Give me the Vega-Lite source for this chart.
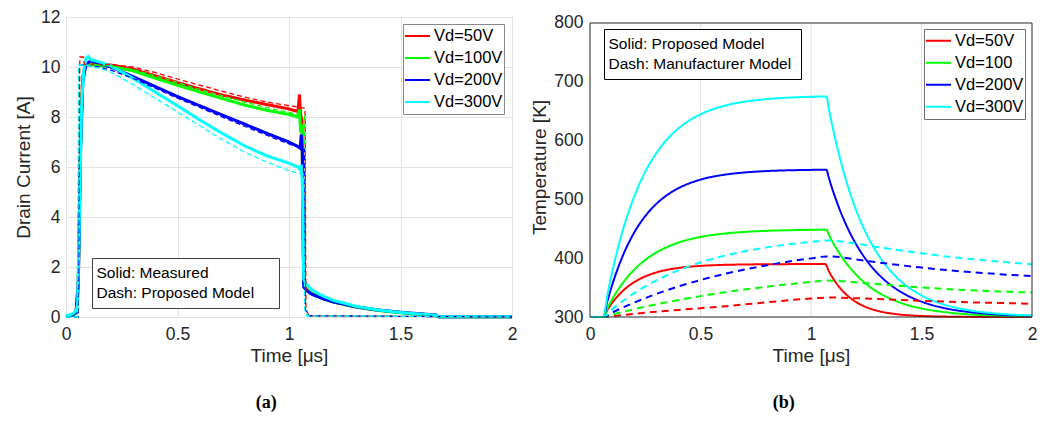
{
"$schema": "https://vega.github.io/schema/vega-lite/v6.json",
"background": "white",
"padding": {"left": 14, "top": 7, "right": 5, "bottom": 5},
"autosize": {"type": "pad"},
"spacing": 78,
"bounds": "flush",
"config": {
  "font": "Liberation Sans",
  "view": {"stroke": null},
  "axis": {"labelFont": "Liberation Sans", "titleFont": "Liberation Sans", "labelFontSize": 17.5, "titleFontSize": 19, "titleFontWeight": "normal", "labelColor": "#262626", "titleColor": "#262626", "gridColor": "#e3e3e3", "gridWidth": 1, "domain": false, "ticks": false},
  "legend": {"labelFont": "Liberation Sans", "labelColor": "#000000", "fillColor": "white", "labelLimit": 400}
},
"resolve": {"scale": {"color": "independent", "strokeDash": "independent", "x": "independent", "y": "independent"}, "legend": {"color": "independent", "strokeDash": "independent"}},
"datasets": {
"a": [
{"t":0,"v":0.04,"s":"Vd=50V","k":"Solid: Measured"},{"t":0.03,"v":0.08,"s":"Vd=50V","k":"Solid: Measured"},{"t":0.045,"v":0.15,"s":"Vd=50V","k":"Solid: Measured"},{"t":0.055,"v":1.5,"s":"Vd=50V","k":"Solid: Measured"},{"t":0.065,"v":7.0,"s":"Vd=50V","k":"Solid: Measured"},{"t":0.075,"v":9.6,"s":"Vd=50V","k":"Solid: Measured"},{"t":0.085,"v":10.05,"s":"Vd=50V","k":"Solid: Measured"},{"t":0.1,"v":10.12,"s":"Vd=50V","k":"Solid: Measured"},{"t":0.12,"v":10.1,"s":"Vd=50V","k":"Solid: Measured"},{"t":0.2,"v":10.08,"s":"Vd=50V","k":"Solid: Measured"},{"t":0.3,"v":9.92,"s":"Vd=50V","k":"Solid: Measured"},{"t":0.4,"v":9.65,"s":"Vd=50V","k":"Solid: Measured"},{"t":0.5,"v":9.38,"s":"Vd=50V","k":"Solid: Measured"},{"t":0.6,"v":9.12,"s":"Vd=50V","k":"Solid: Measured"},{"t":0.7,"v":8.88,"s":"Vd=50V","k":"Solid: Measured"},{"t":0.8,"v":8.68,"s":"Vd=50V","k":"Solid: Measured"},{"t":0.9,"v":8.5,"s":"Vd=50V","k":"Solid: Measured"},{"t":1.0,"v":8.32,"s":"Vd=50V","k":"Solid: Measured"},{"t":1.04,"v":8.22,"s":"Vd=50V","k":"Solid: Measured"},{"t":1.047,"v":8.9,"s":"Vd=50V","k":"Solid: Measured"},{"t":1.052,"v":8.1,"s":"Vd=50V","k":"Solid: Measured"},{"t":1.058,"v":7.9,"s":"Vd=50V","k":"Solid: Measured"},{"t":1.066,"v":1.3,"s":"Vd=50V","k":"Solid: Measured"},{"t":1.08,"v":1.1,"s":"Vd=50V","k":"Solid: Measured"},{"t":1.1,"v":0.95,"s":"Vd=50V","k":"Solid: Measured"},{"t":1.15,"v":0.76,"s":"Vd=50V","k":"Solid: Measured"},{"t":1.2,"v":0.6,"s":"Vd=50V","k":"Solid: Measured"},{"t":1.3,"v":0.4,"s":"Vd=50V","k":"Solid: Measured"},{"t":1.4,"v":0.27,"s":"Vd=50V","k":"Solid: Measured"},{"t":1.5,"v":0.18,"s":"Vd=50V","k":"Solid: Measured"},{"t":1.6,"v":0.11,"s":"Vd=50V","k":"Solid: Measured"},{"t":1.66,"v":0.07,"s":"Vd=50V","k":"Solid: Measured"},{"t":1.67,"v":0.01,"s":"Vd=50V","k":"Solid: Measured"},{"t":2.0,"v":0.01,"s":"Vd=50V","k":"Solid: Measured"},
{"t":0,"v":0.03,"s":"Vd=100V","k":"Solid: Measured"},{"t":0.03,"v":0.07,"s":"Vd=100V","k":"Solid: Measured"},{"t":0.045,"v":0.15,"s":"Vd=100V","k":"Solid: Measured"},{"t":0.055,"v":1.3,"s":"Vd=100V","k":"Solid: Measured"},{"t":0.065,"v":6.8,"s":"Vd=100V","k":"Solid: Measured"},{"t":0.075,"v":9.5,"s":"Vd=100V","k":"Solid: Measured"},{"t":0.085,"v":10.0,"s":"Vd=100V","k":"Solid: Measured"},{"t":0.1,"v":10.1,"s":"Vd=100V","k":"Solid: Measured"},{"t":0.12,"v":10.08,"s":"Vd=100V","k":"Solid: Measured"},{"t":0.2,"v":10.02,"s":"Vd=100V","k":"Solid: Measured"},{"t":0.3,"v":9.85,"s":"Vd=100V","k":"Solid: Measured"},{"t":0.4,"v":9.55,"s":"Vd=100V","k":"Solid: Measured"},{"t":0.5,"v":9.27,"s":"Vd=100V","k":"Solid: Measured"},{"t":0.6,"v":9.0,"s":"Vd=100V","k":"Solid: Measured"},{"t":0.7,"v":8.74,"s":"Vd=100V","k":"Solid: Measured"},{"t":0.8,"v":8.48,"s":"Vd=100V","k":"Solid: Measured"},{"t":0.9,"v":8.27,"s":"Vd=100V","k":"Solid: Measured"},{"t":1.0,"v":8.1,"s":"Vd=100V","k":"Solid: Measured"},{"t":1.04,"v":8.0,"s":"Vd=100V","k":"Solid: Measured"},{"t":1.047,"v":8.3,"s":"Vd=100V","k":"Solid: Measured"},{"t":1.052,"v":7.4,"s":"Vd=100V","k":"Solid: Measured"},{"t":1.058,"v":7.7,"s":"Vd=100V","k":"Solid: Measured"},{"t":1.066,"v":1.3,"s":"Vd=100V","k":"Solid: Measured"},{"t":1.08,"v":1.08,"s":"Vd=100V","k":"Solid: Measured"},{"t":1.1,"v":0.93,"s":"Vd=100V","k":"Solid: Measured"},{"t":1.15,"v":0.74,"s":"Vd=100V","k":"Solid: Measured"},{"t":1.2,"v":0.6,"s":"Vd=100V","k":"Solid: Measured"},{"t":1.3,"v":0.4,"s":"Vd=100V","k":"Solid: Measured"},{"t":1.4,"v":0.26,"s":"Vd=100V","k":"Solid: Measured"},{"t":1.5,"v":0.17,"s":"Vd=100V","k":"Solid: Measured"},{"t":1.6,"v":0.1,"s":"Vd=100V","k":"Solid: Measured"},{"t":1.66,"v":0.06,"s":"Vd=100V","k":"Solid: Measured"},{"t":1.67,"v":0.01,"s":"Vd=100V","k":"Solid: Measured"},{"t":2.0,"v":0.01,"s":"Vd=100V","k":"Solid: Measured"},
{"t":0,"v":0.04,"s":"Vd=200V","k":"Solid: Measured"},{"t":0.03,"v":0.08,"s":"Vd=200V","k":"Solid: Measured"},{"t":0.045,"v":0.18,"s":"Vd=200V","k":"Solid: Measured"},{"t":0.055,"v":1.2,"s":"Vd=200V","k":"Solid: Measured"},{"t":0.065,"v":6.5,"s":"Vd=200V","k":"Solid: Measured"},{"t":0.075,"v":9.4,"s":"Vd=200V","k":"Solid: Measured"},{"t":0.09,"v":10.1,"s":"Vd=200V","k":"Solid: Measured"},{"t":0.11,"v":10.25,"s":"Vd=200V","k":"Solid: Measured"},{"t":0.13,"v":10.2,"s":"Vd=200V","k":"Solid: Measured"},{"t":0.2,"v":10.0,"s":"Vd=200V","k":"Solid: Measured"},{"t":0.3,"v":9.62,"s":"Vd=200V","k":"Solid: Measured"},{"t":0.4,"v":9.22,"s":"Vd=200V","k":"Solid: Measured"},{"t":0.5,"v":8.82,"s":"Vd=200V","k":"Solid: Measured"},{"t":0.6,"v":8.45,"s":"Vd=200V","k":"Solid: Measured"},{"t":0.7,"v":8.08,"s":"Vd=200V","k":"Solid: Measured"},{"t":0.8,"v":7.72,"s":"Vd=200V","k":"Solid: Measured"},{"t":0.9,"v":7.35,"s":"Vd=200V","k":"Solid: Measured"},{"t":1.0,"v":7.0,"s":"Vd=200V","k":"Solid: Measured"},{"t":1.04,"v":6.82,"s":"Vd=200V","k":"Solid: Measured"},{"t":1.05,"v":6.75,"s":"Vd=200V","k":"Solid: Measured"},{"t":1.055,"v":7.3,"s":"Vd=200V","k":"Solid: Measured"},{"t":1.06,"v":6.6,"s":"Vd=200V","k":"Solid: Measured"},{"t":1.066,"v":1.2,"s":"Vd=200V","k":"Solid: Measured"},{"t":1.08,"v":1.05,"s":"Vd=200V","k":"Solid: Measured"},{"t":1.1,"v":0.92,"s":"Vd=200V","k":"Solid: Measured"},{"t":1.15,"v":0.74,"s":"Vd=200V","k":"Solid: Measured"},{"t":1.2,"v":0.6,"s":"Vd=200V","k":"Solid: Measured"},{"t":1.3,"v":0.41,"s":"Vd=200V","k":"Solid: Measured"},{"t":1.4,"v":0.28,"s":"Vd=200V","k":"Solid: Measured"},{"t":1.5,"v":0.19,"s":"Vd=200V","k":"Solid: Measured"},{"t":1.6,"v":0.12,"s":"Vd=200V","k":"Solid: Measured"},{"t":1.66,"v":0.08,"s":"Vd=200V","k":"Solid: Measured"},{"t":1.67,"v":0.01,"s":"Vd=200V","k":"Solid: Measured"},{"t":2.0,"v":0.01,"s":"Vd=200V","k":"Solid: Measured"},
{"t":0,"v":0.05,"s":"Vd=300V","k":"Solid: Measured"},{"t":0.03,"v":0.12,"s":"Vd=300V","k":"Solid: Measured"},{"t":0.045,"v":0.25,"s":"Vd=300V","k":"Solid: Measured"},{"t":0.052,"v":0.5,"s":"Vd=300V","k":"Solid: Measured"},{"t":0.06,"v":4.0,"s":"Vd=300V","k":"Solid: Measured"},{"t":0.07,"v":8.5,"s":"Vd=300V","k":"Solid: Measured"},{"t":0.08,"v":9.9,"s":"Vd=300V","k":"Solid: Measured"},{"t":0.09,"v":10.35,"s":"Vd=300V","k":"Solid: Measured"},{"t":0.1,"v":10.42,"s":"Vd=300V","k":"Solid: Measured"},{"t":0.11,"v":10.3,"s":"Vd=300V","k":"Solid: Measured"},{"t":0.15,"v":10.2,"s":"Vd=300V","k":"Solid: Measured"},{"t":0.2,"v":10.05,"s":"Vd=300V","k":"Solid: Measured"},{"t":0.3,"v":9.55,"s":"Vd=300V","k":"Solid: Measured"},{"t":0.4,"v":9.0,"s":"Vd=300V","k":"Solid: Measured"},{"t":0.5,"v":8.45,"s":"Vd=300V","k":"Solid: Measured"},{"t":0.6,"v":7.88,"s":"Vd=300V","k":"Solid: Measured"},{"t":0.7,"v":7.35,"s":"Vd=300V","k":"Solid: Measured"},{"t":0.8,"v":6.85,"s":"Vd=300V","k":"Solid: Measured"},{"t":0.9,"v":6.45,"s":"Vd=300V","k":"Solid: Measured"},{"t":1.0,"v":6.15,"s":"Vd=300V","k":"Solid: Measured"},{"t":1.04,"v":6.0,"s":"Vd=300V","k":"Solid: Measured"},{"t":1.05,"v":5.9,"s":"Vd=300V","k":"Solid: Measured"},{"t":1.055,"v":6.1,"s":"Vd=300V","k":"Solid: Measured"},{"t":1.06,"v":5.3,"s":"Vd=300V","k":"Solid: Measured"},{"t":1.066,"v":1.5,"s":"Vd=300V","k":"Solid: Measured"},{"t":1.08,"v":1.3,"s":"Vd=300V","k":"Solid: Measured"},{"t":1.1,"v":1.1,"s":"Vd=300V","k":"Solid: Measured"},{"t":1.15,"v":0.85,"s":"Vd=300V","k":"Solid: Measured"},{"t":1.2,"v":0.66,"s":"Vd=300V","k":"Solid: Measured"},{"t":1.3,"v":0.43,"s":"Vd=300V","k":"Solid: Measured"},{"t":1.4,"v":0.28,"s":"Vd=300V","k":"Solid: Measured"},{"t":1.5,"v":0.18,"s":"Vd=300V","k":"Solid: Measured"},{"t":1.6,"v":0.11,"s":"Vd=300V","k":"Solid: Measured"},{"t":1.66,"v":0.07,"s":"Vd=300V","k":"Solid: Measured"},{"t":1.67,"v":0.01,"s":"Vd=300V","k":"Solid: Measured"},{"t":2.0,"v":0.01,"s":"Vd=300V","k":"Solid: Measured"},
{"t":0,"v":0,"s":"Vd=50V","k":"Dash: Proposed Model"},{"t":0.055,"v":0,"s":"Vd=50V","k":"Dash: Proposed Model"},{"t":0.062,"v":10.4,"s":"Vd=50V","k":"Dash: Proposed Model"},{"t":0.078,"v":10.4,"s":"Vd=50V","k":"Dash: Proposed Model"},{"t":0.082,"v":10.1,"s":"Vd=50V","k":"Dash: Proposed Model"},{"t":0.2,"v":10.1,"s":"Vd=50V","k":"Dash: Proposed Model"},{"t":0.3,"v":10.0,"s":"Vd=50V","k":"Dash: Proposed Model"},{"t":0.4,"v":9.78,"s":"Vd=50V","k":"Dash: Proposed Model"},{"t":0.5,"v":9.52,"s":"Vd=50V","k":"Dash: Proposed Model"},{"t":0.6,"v":9.27,"s":"Vd=50V","k":"Dash: Proposed Model"},{"t":0.7,"v":9.03,"s":"Vd=50V","k":"Dash: Proposed Model"},{"t":0.8,"v":8.8,"s":"Vd=50V","k":"Dash: Proposed Model"},{"t":0.9,"v":8.6,"s":"Vd=50V","k":"Dash: Proposed Model"},{"t":1.0,"v":8.45,"s":"Vd=50V","k":"Dash: Proposed Model"},{"t":1.072,"v":8.35,"s":"Vd=50V","k":"Dash: Proposed Model"},{"t":1.076,"v":0.3,"s":"Vd=50V","k":"Dash: Proposed Model"},{"t":1.09,"v":0.05,"s":"Vd=50V","k":"Dash: Proposed Model"},{"t":2.0,"v":0,"s":"Vd=50V","k":"Dash: Proposed Model"},
{"t":0,"v":0,"s":"Vd=100V","k":"Dash: Proposed Model"},{"t":0.055,"v":0,"s":"Vd=100V","k":"Dash: Proposed Model"},{"t":0.06,"v":10.1,"s":"Vd=100V","k":"Dash: Proposed Model"},{"t":0.2,"v":10.05,"s":"Vd=100V","k":"Dash: Proposed Model"},{"t":0.3,"v":9.9,"s":"Vd=100V","k":"Dash: Proposed Model"},{"t":0.4,"v":9.65,"s":"Vd=100V","k":"Dash: Proposed Model"},{"t":0.5,"v":9.38,"s":"Vd=100V","k":"Dash: Proposed Model"},{"t":0.6,"v":9.1,"s":"Vd=100V","k":"Dash: Proposed Model"},{"t":0.7,"v":8.85,"s":"Vd=100V","k":"Dash: Proposed Model"},{"t":0.8,"v":8.6,"s":"Vd=100V","k":"Dash: Proposed Model"},{"t":0.9,"v":8.38,"s":"Vd=100V","k":"Dash: Proposed Model"},{"t":1.0,"v":8.18,"s":"Vd=100V","k":"Dash: Proposed Model"},{"t":1.07,"v":8.05,"s":"Vd=100V","k":"Dash: Proposed Model"},{"t":1.074,"v":0.3,"s":"Vd=100V","k":"Dash: Proposed Model"},{"t":1.09,"v":0.05,"s":"Vd=100V","k":"Dash: Proposed Model"},{"t":2.0,"v":0,"s":"Vd=100V","k":"Dash: Proposed Model"},
{"t":0,"v":0,"s":"Vd=200V","k":"Dash: Proposed Model"},{"t":0.055,"v":0,"s":"Vd=200V","k":"Dash: Proposed Model"},{"t":0.06,"v":10.1,"s":"Vd=200V","k":"Dash: Proposed Model"},{"t":0.15,"v":10.0,"s":"Vd=200V","k":"Dash: Proposed Model"},{"t":0.2,"v":9.88,"s":"Vd=200V","k":"Dash: Proposed Model"},{"t":0.3,"v":9.55,"s":"Vd=200V","k":"Dash: Proposed Model"},{"t":0.4,"v":9.15,"s":"Vd=200V","k":"Dash: Proposed Model"},{"t":0.5,"v":8.75,"s":"Vd=200V","k":"Dash: Proposed Model"},{"t":0.6,"v":8.38,"s":"Vd=200V","k":"Dash: Proposed Model"},{"t":0.7,"v":8.0,"s":"Vd=200V","k":"Dash: Proposed Model"},{"t":0.8,"v":7.63,"s":"Vd=200V","k":"Dash: Proposed Model"},{"t":0.9,"v":7.27,"s":"Vd=200V","k":"Dash: Proposed Model"},{"t":1.0,"v":6.92,"s":"Vd=200V","k":"Dash: Proposed Model"},{"t":1.07,"v":6.7,"s":"Vd=200V","k":"Dash: Proposed Model"},{"t":1.073,"v":0.3,"s":"Vd=200V","k":"Dash: Proposed Model"},{"t":1.09,"v":0.05,"s":"Vd=200V","k":"Dash: Proposed Model"},{"t":2.0,"v":0,"s":"Vd=200V","k":"Dash: Proposed Model"},
{"t":0,"v":0,"s":"Vd=300V","k":"Dash: Proposed Model"},{"t":0.052,"v":0,"s":"Vd=300V","k":"Dash: Proposed Model"},{"t":0.056,"v":10.1,"s":"Vd=300V","k":"Dash: Proposed Model"},{"t":0.1,"v":10.05,"s":"Vd=300V","k":"Dash: Proposed Model"},{"t":0.15,"v":9.95,"s":"Vd=300V","k":"Dash: Proposed Model"},{"t":0.2,"v":9.8,"s":"Vd=300V","k":"Dash: Proposed Model"},{"t":0.3,"v":9.3,"s":"Vd=300V","k":"Dash: Proposed Model"},{"t":0.4,"v":8.75,"s":"Vd=300V","k":"Dash: Proposed Model"},{"t":0.5,"v":8.2,"s":"Vd=300V","k":"Dash: Proposed Model"},{"t":0.6,"v":7.65,"s":"Vd=300V","k":"Dash: Proposed Model"},{"t":0.7,"v":7.1,"s":"Vd=300V","k":"Dash: Proposed Model"},{"t":0.8,"v":6.6,"s":"Vd=300V","k":"Dash: Proposed Model"},{"t":0.9,"v":6.2,"s":"Vd=300V","k":"Dash: Proposed Model"},{"t":1.0,"v":5.85,"s":"Vd=300V","k":"Dash: Proposed Model"},{"t":1.065,"v":5.7,"s":"Vd=300V","k":"Dash: Proposed Model"},{"t":1.07,"v":0.3,"s":"Vd=300V","k":"Dash: Proposed Model"},{"t":1.08,"v":0.05,"s":"Vd=300V","k":"Dash: Proposed Model"},{"t":2.0,"v":0,"s":"Vd=300V","k":"Dash: Proposed Model"}
],
"b": [
{"t":0,"v":300,"s":"Vd=50V","k":"Solid: Proposed Model"},{"t":0.06,"v":300,"s":"Vd=50V","k":"Solid: Proposed Model"},{"t":0.08,"v":312.8,"s":"Vd=50V","k":"Solid: Proposed Model"},{"t":0.1,"v":323.8,"s":"Vd=50V","k":"Solid: Proposed Model"},{"t":0.125,"v":335.4,"s":"Vd=50V","k":"Solid: Proposed Model"},{"t":0.15,"v":345.0,"s":"Vd=50V","k":"Solid: Proposed Model"},{"t":0.2,"v":359.3,"s":"Vd=50V","k":"Solid: Proposed Model"},{"t":0.25,"v":369.1,"s":"Vd=50V","k":"Solid: Proposed Model"},{"t":0.3,"v":375.8,"s":"Vd=50V","k":"Solid: Proposed Model"},{"t":0.35,"v":380.3,"s":"Vd=50V","k":"Solid: Proposed Model"},{"t":0.4,"v":383.4,"s":"Vd=50V","k":"Solid: Proposed Model"},{"t":0.5,"v":386.9,"s":"Vd=50V","k":"Solid: Proposed Model"},{"t":0.6,"v":388.6,"s":"Vd=50V","k":"Solid: Proposed Model"},{"t":0.7,"v":389.3,"s":"Vd=50V","k":"Solid: Proposed Model"},{"t":0.8,"v":389.7,"s":"Vd=50V","k":"Solid: Proposed Model"},{"t":1.0,"v":390,"s":"Vd=50V","k":"Solid: Proposed Model"},{"t":1.065,"v":390,"s":"Vd=50V","k":"Solid: Proposed Model"},{"t":1.08,"v":378.5,"s":"Vd=50V","k":"Solid: Proposed Model"},{"t":1.1,"v":365.5,"s":"Vd=50V","k":"Solid: Proposed Model"},{"t":1.15,"v":341.6,"s":"Vd=50V","k":"Solid: Proposed Model"},{"t":1.2,"v":326.4,"s":"Vd=50V","k":"Solid: Proposed Model"},{"t":1.25,"v":316.7,"s":"Vd=50V","k":"Solid: Proposed Model"},{"t":1.3,"v":310.6,"s":"Vd=50V","k":"Solid: Proposed Model"},{"t":1.35,"v":306.7,"s":"Vd=50V","k":"Solid: Proposed Model"},{"t":1.4,"v":304.3,"s":"Vd=50V","k":"Solid: Proposed Model"},{"t":1.5,"v":301.7,"s":"Vd=50V","k":"Solid: Proposed Model"},{"t":1.6,"v":300.7,"s":"Vd=50V","k":"Solid: Proposed Model"},{"t":1.8,"v":300.1,"s":"Vd=50V","k":"Solid: Proposed Model"},{"t":2.0,"v":300.0,"s":"Vd=50V","k":"Solid: Proposed Model"},
{"t":0,"v":300,"s":"Vd=100","k":"Solid: Proposed Model"},{"t":0.06,"v":300,"s":"Vd=100","k":"Solid: Proposed Model"},{"t":0.08,"v":315.7,"s":"Vd=100","k":"Solid: Proposed Model"},{"t":0.1,"v":329.7,"s":"Vd=100","k":"Solid: Proposed Model"},{"t":0.125,"v":345.2,"s":"Vd=100","k":"Solid: Proposed Model"},{"t":0.15,"v":358.6,"s":"Vd=100","k":"Solid: Proposed Model"},{"t":0.2,"v":380.5,"s":"Vd=100","k":"Solid: Proposed Model"},{"t":0.25,"v":397.1,"s":"Vd=100","k":"Solid: Proposed Model"},{"t":0.3,"v":409.7,"s":"Vd=100","k":"Solid: Proposed Model"},{"t":0.35,"v":419.2,"s":"Vd=100","k":"Solid: Proposed Model"},{"t":0.4,"v":426.5,"s":"Vd=100","k":"Solid: Proposed Model"},{"t":0.5,"v":436.1,"s":"Vd=100","k":"Solid: Proposed Model"},{"t":0.6,"v":441.6,"s":"Vd=100","k":"Solid: Proposed Model"},{"t":0.7,"v":444.7,"s":"Vd=100","k":"Solid: Proposed Model"},{"t":0.8,"v":446.6,"s":"Vd=100","k":"Solid: Proposed Model"},{"t":0.9,"v":447.6,"s":"Vd=100","k":"Solid: Proposed Model"},{"t":1.0,"v":448.2,"s":"Vd=100","k":"Solid: Proposed Model"},{"t":1.07,"v":448.5,"s":"Vd=100","k":"Solid: Proposed Model"},{"t":1.08,"v":440.6,"s":"Vd=100","k":"Solid: Proposed Model"},{"t":1.1,"v":426.2,"s":"Vd=100","k":"Solid: Proposed Model"},{"t":1.15,"v":396.4,"s":"Vd=100","k":"Solid: Proposed Model"},{"t":1.2,"v":373.6,"s":"Vd=100","k":"Solid: Proposed Model"},{"t":1.25,"v":356.1,"s":"Vd=100","k":"Solid: Proposed Model"},{"t":1.3,"v":342.8,"s":"Vd=100","k":"Solid: Proposed Model"},{"t":1.35,"v":332.7,"s":"Vd=100","k":"Solid: Proposed Model"},{"t":1.4,"v":324.9,"s":"Vd=100","k":"Solid: Proposed Model"},{"t":1.5,"v":314.5,"s":"Vd=100","k":"Solid: Proposed Model"},{"t":1.6,"v":308.5,"s":"Vd=100","k":"Solid: Proposed Model"},{"t":1.7,"v":304.9,"s":"Vd=100","k":"Solid: Proposed Model"},{"t":1.8,"v":302.9,"s":"Vd=100","k":"Solid: Proposed Model"},{"t":1.9,"v":301.7,"s":"Vd=100","k":"Solid: Proposed Model"},{"t":2.0,"v":301.0,"s":"Vd=100","k":"Solid: Proposed Model"},
{"t":0,"v":300,"s":"Vd=200V","k":"Solid: Proposed Model"},{"t":0.06,"v":300,"s":"Vd=200V","k":"Solid: Proposed Model"},{"t":0.08,"v":328.7,"s":"Vd=200V","k":"Solid: Proposed Model"},{"t":0.1,"v":354.0,"s":"Vd=200V","k":"Solid: Proposed Model"},{"t":0.125,"v":381.7,"s":"Vd=200V","k":"Solid: Proposed Model"},{"t":0.15,"v":405.5,"s":"Vd=200V","k":"Solid: Proposed Model"},{"t":0.2,"v":443.6,"s":"Vd=200V","k":"Solid: Proposed Model"},{"t":0.25,"v":471.6,"s":"Vd=200V","k":"Solid: Proposed Model"},{"t":0.3,"v":492.4,"s":"Vd=200V","k":"Solid: Proposed Model"},{"t":0.35,"v":507.7,"s":"Vd=200V","k":"Solid: Proposed Model"},{"t":0.4,"v":519.0,"s":"Vd=200V","k":"Solid: Proposed Model"},{"t":0.5,"v":533.6,"s":"Vd=200V","k":"Solid: Proposed Model"},{"t":0.6,"v":541.5,"s":"Vd=200V","k":"Solid: Proposed Model"},{"t":0.7,"v":545.8,"s":"Vd=200V","k":"Solid: Proposed Model"},{"t":0.8,"v":548.2,"s":"Vd=200V","k":"Solid: Proposed Model"},{"t":0.9,"v":549.5,"s":"Vd=200V","k":"Solid: Proposed Model"},{"t":1.0,"v":550.2,"s":"Vd=200V","k":"Solid: Proposed Model"},{"t":1.07,"v":550.5,"s":"Vd=200V","k":"Solid: Proposed Model"},{"t":1.08,"v":537.6,"s":"Vd=200V","k":"Solid: Proposed Model"},{"t":1.1,"v":513.9,"s":"Vd=200V","k":"Solid: Proposed Model"},{"t":1.15,"v":464.4,"s":"Vd=200V","k":"Solid: Proposed Model"},{"t":1.2,"v":426.4,"s":"Vd=200V","k":"Solid: Proposed Model"},{"t":1.25,"v":397.1,"s":"Vd=200V","k":"Solid: Proposed Model"},{"t":1.3,"v":374.7,"s":"Vd=200V","k":"Solid: Proposed Model"},{"t":1.35,"v":357.4,"s":"Vd=200V","k":"Solid: Proposed Model"},{"t":1.4,"v":344.1,"s":"Vd=200V","k":"Solid: Proposed Model"},{"t":1.5,"v":326.1,"s":"Vd=200V","k":"Solid: Proposed Model"},{"t":1.6,"v":315.4,"s":"Vd=200V","k":"Solid: Proposed Model"},{"t":1.7,"v":309.1,"s":"Vd=200V","k":"Solid: Proposed Model"},{"t":1.8,"v":305.4,"s":"Vd=200V","k":"Solid: Proposed Model"},{"t":1.9,"v":303.2,"s":"Vd=200V","k":"Solid: Proposed Model"},{"t":2.0,"v":301.9,"s":"Vd=200V","k":"Solid: Proposed Model"},
{"t":0,"v":300,"s":"Vd=300V","k":"Solid: Proposed Model"},{"t":0.06,"v":300,"s":"Vd=300V","k":"Solid: Proposed Model"},{"t":0.08,"v":340.0,"s":"Vd=300V","k":"Solid: Proposed Model"},{"t":0.1,"v":375.7,"s":"Vd=300V","k":"Solid: Proposed Model"},{"t":0.125,"v":415.2,"s":"Vd=300V","k":"Solid: Proposed Model"},{"t":0.15,"v":449.4,"s":"Vd=300V","k":"Solid: Proposed Model"},{"t":0.2,"v":505.0,"s":"Vd=300V","k":"Solid: Proposed Model"},{"t":0.25,"v":547.0,"s":"Vd=300V","k":"Solid: Proposed Model"},{"t":0.3,"v":578.7,"s":"Vd=300V","k":"Solid: Proposed Model"},{"t":0.35,"v":602.7,"s":"Vd=300V","k":"Solid: Proposed Model"},{"t":0.4,"v":620.7,"s":"Vd=300V","k":"Solid: Proposed Model"},{"t":0.5,"v":644.7,"s":"Vd=300V","k":"Solid: Proposed Model"},{"t":0.6,"v":658.4,"s":"Vd=300V","k":"Solid: Proposed Model"},{"t":0.7,"v":666.2,"s":"Vd=300V","k":"Solid: Proposed Model"},{"t":0.8,"v":670.6,"s":"Vd=300V","k":"Solid: Proposed Model"},{"t":0.9,"v":673.1,"s":"Vd=300V","k":"Solid: Proposed Model"},{"t":1.0,"v":674.6,"s":"Vd=300V","k":"Solid: Proposed Model"},{"t":1.07,"v":675.2,"s":"Vd=300V","k":"Solid: Proposed Model"},{"t":1.08,"v":655.3,"s":"Vd=300V","k":"Solid: Proposed Model"},{"t":1.1,"v":619.0,"s":"Vd=300V","k":"Solid: Proposed Model"},{"t":1.15,"v":543.5,"s":"Vd=300V","k":"Solid: Proposed Model"},{"t":1.2,"v":485.8,"s":"Vd=300V","k":"Solid: Proposed Model"},{"t":1.25,"v":441.8,"s":"Vd=300V","k":"Solid: Proposed Model"},{"t":1.3,"v":408.3,"s":"Vd=300V","k":"Solid: Proposed Model"},{"t":1.35,"v":382.6,"s":"Vd=300V","k":"Solid: Proposed Model"},{"t":1.4,"v":363.0,"s":"Vd=300V","k":"Solid: Proposed Model"},{"t":1.5,"v":336.7,"s":"Vd=300V","k":"Solid: Proposed Model"},{"t":1.6,"v":321.4,"s":"Vd=300V","k":"Solid: Proposed Model"},{"t":1.7,"v":312.5,"s":"Vd=300V","k":"Solid: Proposed Model"},{"t":1.8,"v":307.3,"s":"Vd=300V","k":"Solid: Proposed Model"},{"t":1.9,"v":304.2,"s":"Vd=300V","k":"Solid: Proposed Model"},{"t":2.0,"v":302.5,"s":"Vd=300V","k":"Solid: Proposed Model"},
{"t":0,"v":300,"s":"Vd=50V","k":"Dash: Manufacturer Model"},{"t":0.06,"v":300,"s":"Vd=50V","k":"Dash: Manufacturer Model"},{"t":0.1,"v":301.5,"s":"Vd=50V","k":"Dash: Manufacturer Model"},{"t":0.2,"v":305.5,"s":"Vd=50V","k":"Dash: Manufacturer Model"},{"t":0.3,"v":309,"s":"Vd=50V","k":"Dash: Manufacturer Model"},{"t":0.4,"v":312,"s":"Vd=50V","k":"Dash: Manufacturer Model"},{"t":0.5,"v":315,"s":"Vd=50V","k":"Dash: Manufacturer Model"},{"t":0.6,"v":318,"s":"Vd=50V","k":"Dash: Manufacturer Model"},{"t":0.7,"v":321.5,"s":"Vd=50V","k":"Dash: Manufacturer Model"},{"t":0.8,"v":325,"s":"Vd=50V","k":"Dash: Manufacturer Model"},{"t":0.9,"v":328.5,"s":"Vd=50V","k":"Dash: Manufacturer Model"},{"t":1.0,"v":331.5,"s":"Vd=50V","k":"Dash: Manufacturer Model"},{"t":1.07,"v":333,"s":"Vd=50V","k":"Dash: Manufacturer Model"},{"t":1.1,"v":333,"s":"Vd=50V","k":"Dash: Manufacturer Model"},{"t":1.2,"v":332,"s":"Vd=50V","k":"Dash: Manufacturer Model"},{"t":1.3,"v":330.5,"s":"Vd=50V","k":"Dash: Manufacturer Model"},{"t":1.4,"v":329,"s":"Vd=50V","k":"Dash: Manufacturer Model"},{"t":1.5,"v":327.5,"s":"Vd=50V","k":"Dash: Manufacturer Model"},{"t":1.6,"v":326.3,"s":"Vd=50V","k":"Dash: Manufacturer Model"},{"t":1.7,"v":325.2,"s":"Vd=50V","k":"Dash: Manufacturer Model"},{"t":1.8,"v":324.2,"s":"Vd=50V","k":"Dash: Manufacturer Model"},{"t":1.9,"v":323.4,"s":"Vd=50V","k":"Dash: Manufacturer Model"},{"t":2.0,"v":322.6,"s":"Vd=50V","k":"Dash: Manufacturer Model"},
{"t":0,"v":300,"s":"Vd=100","k":"Dash: Manufacturer Model"},{"t":0.06,"v":300,"s":"Vd=100","k":"Dash: Manufacturer Model"},{"t":0.1,"v":304.0,"s":"Vd=100","k":"Dash: Manufacturer Model"},{"t":0.15,"v":308.7,"s":"Vd=100","k":"Dash: Manufacturer Model"},{"t":0.2,"v":313.2,"s":"Vd=100","k":"Dash: Manufacturer Model"},{"t":0.3,"v":321.5,"s":"Vd=100","k":"Dash: Manufacturer Model"},{"t":0.4,"v":328.9,"s":"Vd=100","k":"Dash: Manufacturer Model"},{"t":0.5,"v":335.5,"s":"Vd=100","k":"Dash: Manufacturer Model"},{"t":0.6,"v":341.5,"s":"Vd=100","k":"Dash: Manufacturer Model"},{"t":0.7,"v":346.8,"s":"Vd=100","k":"Dash: Manufacturer Model"},{"t":0.8,"v":351.5,"s":"Vd=100","k":"Dash: Manufacturer Model"},{"t":0.9,"v":355.8,"s":"Vd=100","k":"Dash: Manufacturer Model"},{"t":1.0,"v":359.6,"s":"Vd=100","k":"Dash: Manufacturer Model"},{"t":1.07,"v":362.0,"s":"Vd=100","k":"Dash: Manufacturer Model"},{"t":1.1,"v":361.8,"s":"Vd=100","k":"Dash: Manufacturer Model"},{"t":1.2,"v":359,"s":"Vd=100","k":"Dash: Manufacturer Model"},{"t":1.3,"v":356,"s":"Vd=100","k":"Dash: Manufacturer Model"},{"t":1.4,"v":353,"s":"Vd=100","k":"Dash: Manufacturer Model"},{"t":1.5,"v":350.2,"s":"Vd=100","k":"Dash: Manufacturer Model"},{"t":1.6,"v":347.8,"s":"Vd=100","k":"Dash: Manufacturer Model"},{"t":1.7,"v":345.8,"s":"Vd=100","k":"Dash: Manufacturer Model"},{"t":1.8,"v":344.2,"s":"Vd=100","k":"Dash: Manufacturer Model"},{"t":1.9,"v":342.8,"s":"Vd=100","k":"Dash: Manufacturer Model"},{"t":2.0,"v":341.5,"s":"Vd=100","k":"Dash: Manufacturer Model"},
{"t":0,"v":300,"s":"Vd=200V","k":"Dash: Manufacturer Model"},{"t":0.06,"v":300,"s":"Vd=200V","k":"Dash: Manufacturer Model"},{"t":0.1,"v":307.5,"s":"Vd=200V","k":"Dash: Manufacturer Model"},{"t":0.15,"v":316.3,"s":"Vd=200V","k":"Dash: Manufacturer Model"},{"t":0.2,"v":324.5,"s":"Vd=200V","k":"Dash: Manufacturer Model"},{"t":0.3,"v":339.2,"s":"Vd=200V","k":"Dash: Manufacturer Model"},{"t":0.4,"v":351.9,"s":"Vd=200V","k":"Dash: Manufacturer Model"},{"t":0.5,"v":362.9,"s":"Vd=200V","k":"Dash: Manufacturer Model"},{"t":0.6,"v":372.5,"s":"Vd=200V","k":"Dash: Manufacturer Model"},{"t":0.7,"v":380.8,"s":"Vd=200V","k":"Dash: Manufacturer Model"},{"t":0.8,"v":388.0,"s":"Vd=200V","k":"Dash: Manufacturer Model"},{"t":0.9,"v":394.3,"s":"Vd=200V","k":"Dash: Manufacturer Model"},{"t":1.0,"v":399.7,"s":"Vd=200V","k":"Dash: Manufacturer Model"},{"t":1.07,"v":403.0,"s":"Vd=200V","k":"Dash: Manufacturer Model"},{"t":1.1,"v":402.8,"s":"Vd=200V","k":"Dash: Manufacturer Model"},{"t":1.2,"v":398,"s":"Vd=200V","k":"Dash: Manufacturer Model"},{"t":1.3,"v":393,"s":"Vd=200V","k":"Dash: Manufacturer Model"},{"t":1.4,"v":388.3,"s":"Vd=200V","k":"Dash: Manufacturer Model"},{"t":1.5,"v":384,"s":"Vd=200V","k":"Dash: Manufacturer Model"},{"t":1.6,"v":380.3,"s":"Vd=200V","k":"Dash: Manufacturer Model"},{"t":1.7,"v":377,"s":"Vd=200V","k":"Dash: Manufacturer Model"},{"t":1.8,"v":374.2,"s":"Vd=200V","k":"Dash: Manufacturer Model"},{"t":1.9,"v":371.7,"s":"Vd=200V","k":"Dash: Manufacturer Model"},{"t":2.0,"v":369.6,"s":"Vd=200V","k":"Dash: Manufacturer Model"},
{"t":0,"v":300,"s":"Vd=300V","k":"Dash: Manufacturer Model"},{"t":0.06,"v":300,"s":"Vd=300V","k":"Dash: Manufacturer Model"},{"t":0.1,"v":313.0,"s":"Vd=300V","k":"Dash: Manufacturer Model"},{"t":0.15,"v":327.6,"s":"Vd=300V","k":"Dash: Manufacturer Model"},{"t":0.2,"v":340.5,"s":"Vd=300V","k":"Dash: Manufacturer Model"},{"t":0.3,"v":362.2,"s":"Vd=300V","k":"Dash: Manufacturer Model"},{"t":0.4,"v":379.3,"s":"Vd=300V","k":"Dash: Manufacturer Model"},{"t":0.5,"v":392.8,"s":"Vd=300V","k":"Dash: Manufacturer Model"},{"t":0.6,"v":403.5,"s":"Vd=300V","k":"Dash: Manufacturer Model"},{"t":0.7,"v":411.8,"s":"Vd=300V","k":"Dash: Manufacturer Model"},{"t":0.8,"v":418.4,"s":"Vd=300V","k":"Dash: Manufacturer Model"},{"t":0.9,"v":423.7,"s":"Vd=300V","k":"Dash: Manufacturer Model"},{"t":1.0,"v":427.8,"s":"Vd=300V","k":"Dash: Manufacturer Model"},{"t":1.07,"v":430.1,"s":"Vd=300V","k":"Dash: Manufacturer Model"},{"t":1.1,"v":429.8,"s":"Vd=300V","k":"Dash: Manufacturer Model"},{"t":1.2,"v":425,"s":"Vd=300V","k":"Dash: Manufacturer Model"},{"t":1.3,"v":419,"s":"Vd=300V","k":"Dash: Manufacturer Model"},{"t":1.4,"v":413.5,"s":"Vd=300V","k":"Dash: Manufacturer Model"},{"t":1.5,"v":408.5,"s":"Vd=300V","k":"Dash: Manufacturer Model"},{"t":1.6,"v":403.5,"s":"Vd=300V","k":"Dash: Manufacturer Model"},{"t":1.7,"v":399.5,"s":"Vd=300V","k":"Dash: Manufacturer Model"},{"t":1.8,"v":396,"s":"Vd=300V","k":"Dash: Manufacturer Model"},{"t":1.9,"v":392.5,"s":"Vd=300V","k":"Dash: Manufacturer Model"},{"t":2.0,"v":389.5,"s":"Vd=300V","k":"Dash: Manufacturer Model"}
]
},
"hconcat": [
{
  "width": 446, "height": 300,
  "view": {"stroke": "#a0a0a0"},
  "title": {"text": "(a)", "orient": "bottom", "frame": "bounds", "anchor": "middle", "offset": 28, "font": "Liberation Serif", "fontSize": 18, "fontWeight": "bold", "color": "#000000"},
  "data": {"name": "a"},
  "encoding": {
    "x": {"field": "t", "type": "quantitative", "scale": {"domain": [0, 2], "nice": false}, "axis": {"values": [0, 0.5, 1, 1.5, 2], "format": "~g", "labelFlush": false, "labelPadding": 8, "title": "Time [μs]", "titlePadding": 4}},
    "y": {"field": "v", "type": "quantitative", "scale": {"domain": [0, 12], "nice": false}, "axis": {"values": [0, 2, 4, 6, 8, 10, 12], "labelPadding": 6, "title": "Drain Current [A]", "titlePadding": 7}},
    "color": {"field": "s", "type": "nominal", "scale": {"domain": ["Vd=50V", "Vd=100V", "Vd=200V", "Vd=300V"], "range": ["#ff0000", "#00ff00", "#0000ff", "#00ffff"]},
      "legend": {"title": null, "orient": "none", "legendX": 337, "legendY": 7, "symbolType": "stroke", "symbolSize": 625, "symbolStrokeWidth": 2, "labelFontSize": 16.5, "labelOffset": 3, "padding": 1, "rowPadding": 0, "clipHeight": 22, "strokeColor": "#888888", "fillColor": "white"}},
    "strokeDash": {"field": "k", "type": "nominal", "scale": {"domain": ["Solid: Measured", "Dash: Proposed Model"], "range": [[1, 0], [5, 3]]},
      "legend": {"title": " ", "titleOrient": "right", "titlePadding": 20, "titleFontSize": 4, "orient": "none", "legendX": 26, "legendY": 241, "symbolType": "stroke", "symbolSize": 1, "symbolOpacity": 0, "symbolStrokeWidth": 0, "labelOffset": -16, "labelFontSize": 15.5, "padding": 5, "rowPadding": 0, "clipHeight": 19.3, "strokeColor": "#404040", "fillColor": "white"}}
  },
  "layer": [
    {"transform": [{"filter": "datum.k === 'Solid: Measured'"}], "mark": {"type": "line", "strokeWidth": 3}},
    {"transform": [{"filter": "datum.k === 'Dash: Proposed Model'"}], "mark": {"type": "line", "strokeWidth": 1.3}}
  ]
},
{
  "width": 442, "height": 300,
  "view": {"stroke": null},
  "title": {"text": "(b)", "orient": "bottom", "frame": "bounds", "anchor": "middle", "offset": 28, "font": "Liberation Serif", "fontSize": 18, "fontWeight": "bold", "color": "#000000"},
  "layer": [
    {"data": {"values": [{}]}, "mark": {"type": "rule", "color": "#e3e3e3", "strokeWidth": 1}, "encoding": {"x": {"datum": 0.5, "type": "quantitative"}, "y": {"datum": 300, "type": "quantitative"}, "y2": {"datum": 800}}},
    {"data": {"values": [{}]}, "mark": {"type": "rule", "color": "#e3e3e3", "strokeWidth": 1}, "encoding": {"x": {"datum": 1, "type": "quantitative"}, "y": {"datum": 300, "type": "quantitative"}, "y2": {"datum": 800}}},
    {"data": {"values": [{}]}, "mark": {"type": "rule", "color": "#e3e3e3", "strokeWidth": 1}, "encoding": {"x": {"datum": 1.5, "type": "quantitative"}, "y": {"datum": 300, "type": "quantitative"}, "y2": {"datum": 800}}},
    {"data": {"name": "b"},
     "mark": {"type": "line", "strokeWidth": 2, "interpolate": "monotone"},
     "encoding": {
      "x": {"field": "t", "type": "quantitative", "scale": {"domain": [0, 2], "nice": false}, "axis": {"values": [0, 0.5, 1, 1.5, 2], "format": "~g", "labelFlush": false, "labelPadding": 8, "grid": false, "title": "Time [μs]", "titlePadding": 4}},
      "y": {"field": "v", "type": "quantitative", "scale": {"domain": [300, 810.2], "nice": false, "zero": false}, "axis": {"values": [300, 400, 500, 600, 700, 800], "labelPadding": 7, "title": "Temperature [K]", "titlePadding": 4}},
      "color": {"field": "s", "type": "nominal", "scale": {"domain": ["Vd=50V", "Vd=100", "Vd=200V", "Vd=300V"], "range": ["#ff0000", "#00ff00", "#0000ff", "#00ffff"]},
        "legend": {"title": null, "orient": "none", "legendX": 334, "legendY": 12, "symbolType": "stroke", "symbolSize": 625, "symbolStrokeWidth": 2, "labelFontSize": 16.5, "labelOffset": 3, "padding": 1, "rowPadding": 0, "clipHeight": 21.4, "strokeColor": "#707070", "fillColor": "white"}},
      "strokeDash": {"field": "k", "type": "nominal", "scale": {"domain": ["Solid: Proposed Model", "Dash: Manufacturer Model"], "range": [[1, 0], [7, 5]]},
        "legend": {"title": " ", "titleOrient": "right", "titlePadding": 5, "titleFontSize": 4, "orient": "none", "legendX": 14, "legendY": 12, "symbolType": "stroke", "symbolSize": 1, "symbolOpacity": 0, "symbolStrokeWidth": 0, "labelOffset": -16, "labelFontSize": 15.5, "padding": 5, "rowPadding": 0, "clipHeight": 19.7, "strokeColor": "#000000", "fillColor": "white"}}
     }},
    {"data": {"values": [{}]}, "mark": {"type": "rule", "color": "#262626", "strokeWidth": 1}, "encoding": {"y": {"datum": 800, "type": "quantitative"}}},
    {"data": {"values": [{}]}, "mark": {"type": "rule", "color": "#262626", "strokeWidth": 1}, "encoding": {"y": {"datum": 300, "type": "quantitative"}}},
    {"data": {"values": [{}]}, "mark": {"type": "rule", "color": "#262626", "strokeWidth": 1}, "encoding": {"x": {"datum": 0, "type": "quantitative"}, "y": {"datum": 300, "type": "quantitative"}, "y2": {"datum": 800}}},
    {"data": {"values": [{}]}, "mark": {"type": "rule", "color": "#262626", "strokeWidth": 1}, "encoding": {"x": {"datum": 2, "type": "quantitative"}, "y": {"datum": 300, "type": "quantitative"}, "y2": {"datum": 800}}}
  ]
}
]
}
